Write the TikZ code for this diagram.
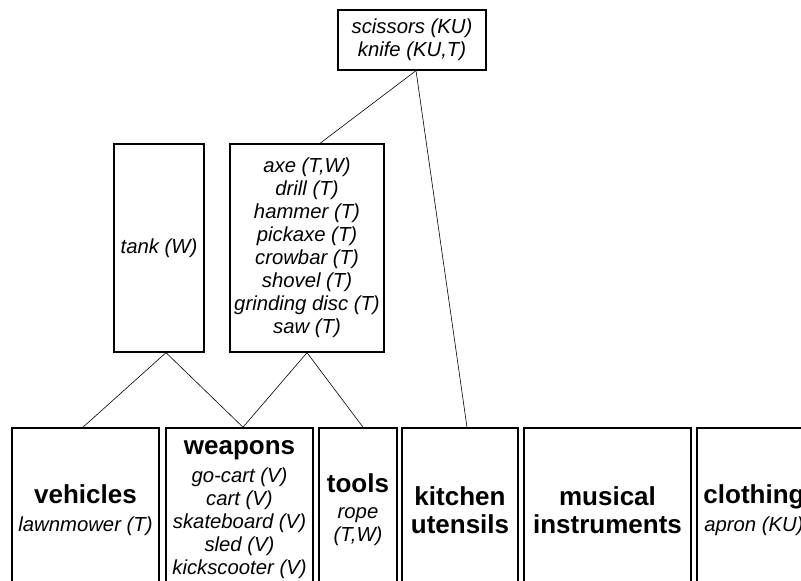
\documentclass[tikz,border=0pt]{standalone}
\usepackage{fontspec}
\setmainfont{Liberation Sans}
\newcommand{\itemfont}{\fontsize{20.3}{23}\selectfont\itshape}
\newcommand{\catfont}{\fontsize{26}{28}\selectfont\upshape\bfseries}
\newcommand{\catname}[1]{{\catfont #1}}
\begin{document}
\begin{tikzpicture}[x=1pt,y=-1pt]
			\tikzset{
				catbox/.style={rectangle, draw=black, line width=1.6pt, inner sep=0pt, minimum height=164pt, align=center, font=\itemfont},
				itembox/.style={rectangle, draw=black, line width=1.3pt, inner sep=0pt, align=center, font=\itemfont},
				link/.style={line width=0.6pt}
			}

			\clip (0,0) rectangle (801,581);

			% top
			\node[itembox, minimum width=148pt, minimum height=60pt] (cut) at (412,40) {scissors (KU)\\knife (KU,T)};

			% middle
			\node[itembox, minimum width=90pt, minimum height=208pt] (tank) at (159,248) {tank (W)};
			\node[itembox, minimum width=154pt, minimum height=208pt] (hand) at (307,248) {axe (T,W)\\drill (T)\\hammer (T)\\pickaxe (T)\\crowbar (T)\\shovel (T)\\grinding disc (T)\\saw (T)};

			% categories
			\node[catbox, minimum width=147pt] (veh) at (85.5,510) {\catname{vehicles}\\[5pt]lawnmower (T)};
			\node[catbox, minimum width=147pt] (weap) at (239.5,510) {\catname{weapons}\\[5pt]go-cart (V)\\cart (V)\\skateboard (V)\\sled (V)\\kickscooter (V)};
			\node[catbox, minimum width=78pt] (tools) at (358,510) {\catname{tools}\\[3pt]rope\\(T,W)};
			\node[catbox, minimum width=116pt, font=\catfont] (kit) at (460,510) {kitchen\\utensils};
			\node[catbox, minimum width=167pt, font=\catfont] (mus) at (607.5,510) {musical\\instruments};
			\node[catbox, minimum width=114pt] (cloth) at (754,510) {\catname{clothing}\\[5pt]apron (KU)};

			\draw[link] ([xshift=4pt]cut.south) -- ([xshift=13pt]hand.north);
			\draw[link] ([xshift=4pt]cut.south) -- ([xshift=7pt]kit.north);
			\draw[link] ([xshift=7pt]tank.south) -- ([xshift=-2.5pt]veh.north);
			\draw[link] ([xshift=7pt]tank.south) -- ([xshift=3.5pt]weap.north);
			\draw[link] (hand.south) -- ([xshift=3.5pt]weap.north);
			\draw[link] (hand.south) -- ([xshift=5pt]tools.north);
\end{tikzpicture}
\end{document}
